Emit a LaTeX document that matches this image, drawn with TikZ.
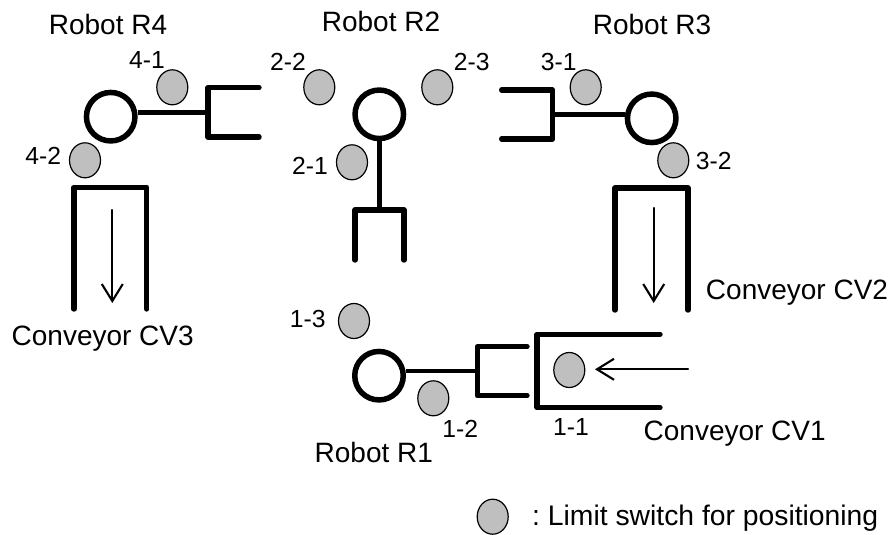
\documentclass[tikz,border=0pt]{standalone}
\usepackage{fontspec}
\setmainfont{Liberation Sans}
\usepackage{tikz}
\usetikzlibrary{arrows.meta}
\usetikzlibrary{shapes.geometric}
\definecolor{switchgray}{HTML}{BFBFBF}

\begin{document}
\begin{tikzpicture}[-,x=1pt,y=-1pt,
			robot node/.style={circle,draw,line width=5.5pt,inner sep=0pt,minimum size=48.5pt},
			switch node/.style={ellipse,fill=switchgray,draw,line width=1.2pt,inner sep=0pt,
				minimum width=31pt,minimum height=35pt},
			part/.style={line width=5.4pt,line cap=round,line join=round},
			arm/.style={line width=4.6pt},
			flow/.style={line width=2.1pt,line cap=round,-{Straight Barb[length=17pt,width=21pt]}},
			big label/.style={anchor=base,inner sep=0pt,font=\fontsize{28}{30}\selectfont},
			small label/.style={anchor=base,inner sep=0pt,font=\fontsize{24.7}{28}\selectfont}]
			\useasboundingbox (0,0) rectangle (894,535);
			
			% robots
			\node[robot node] (R1) at (379,375.7) {};
			\node[robot node] (R2) at (379.3,114.3) {};
			\node[robot node] (R3) at (651.7,118.3) {};
			\node[robot node] (R4) at (110.7,116.7) {};
			\coordinate (H1) at (477.3,371);
			\coordinate (H2) at (379.3,210);
			\coordinate (H3) at (552.7,114.3);
			\coordinate (H4) at (208,112.3);
			\path[arm]
			(R1.east |- H1) edge (H1)
			(R2) edge (H2)
			(R3.west |- H3) edge (H3)
			(R4.east |- H4) edge (H4);
			
			% hands
			\draw[part] (527,346.7) -- (477.3,346.7) -- (477.3,395.7) -- (527,395.7);
			\draw[part] (355,260) -- (355,210) -- (404,210) -- (404,260);
			\draw[part] (501.7,90) -- (552.7,90) -- (552.7,139) -- (501.7,139);
			\draw[part] (259,87.7) -- (208,87.7) -- (208,137) -- (259,137);
			
			% conveyors
			\draw[part] (660,334.3) -- (537,334.3) -- (537,407.7) -- (660,407.7);
			\draw[part] (615,310) -- (615,188) -- (688,188) -- (688,310);
			\draw[part] (74,309) -- (74,187.3) -- (146.7,187.3) -- (146.7,309);
			\coordinate (F1a) at (688,369.3);
			\coordinate (F1b) at (595,369.3);
			\coordinate (F2a) at (653.7,208);
			\coordinate (F2b) at (653.7,303);
			\coordinate (F3a) at (112.3,210);
			\coordinate (F3b) at (112.3,303);
			\draw[flow] (F1a) -- (F1b);
			\draw[flow] (F2a) -- (F2b);
			\draw[flow] (F3a) -- (F3b);
			
			% limit switches
			\node[switch node] (s11) at (569.3,370) {};
			\node[switch node] (s12) at (433.3,398.3) {};
			\node[switch node] (s13) at (354,321) {};
			\node[switch node] (s21) at (352,162.3) {};
			\node[switch node] (s22) at (319.3,87.3) {};
			\node[switch node] (s23) at (437.3,87.3) {};
			\node[switch node] (s31) at (585.7,87.3) {};
			\node[switch node] (s32) at (673.3,160.3) {};
			\node[switch node] (s41) at (172.3,87.3) {};
			\node[switch node] (s42) at (85,160.3) {};
			\node[switch node] (legend) at (492.7,516.7) {};
			
			% switch labels
			\node[small label] (l11) at (571,435.7) {1-1};
			\node[small label] (l12) at (460.3,437.3) {1-2};
			\node[small label] (l13) at (307.7,327.3) {1-3};
			\node[small label] (l21) at (310,174.7) {2-1};
			\node[small label] (l22) at (288,70.7) {2-2};
			\node[small label] (l23) at (471.7,70.7) {2-3};
			\node[small label] (l31) at (558.7,70.7) {3-1};
			\node[small label] (l32) at (713.7,169) {3-2};
			\node[small label] (l41) at (147,68.3) {4-1};
			\node[small label] (l42) at (43.3,164.3) {4-2};
			
			% names
			\node[big label] (n1) at (373.8,462.3) {Robot R1};
			\node[big label] (n2) at (381,32) {Robot R2};
			\node[big label] (n3) at (652,35) {Robot R3};
			\node[big label] (n4) at (108,35) {Robot R4};
			\node[big label] (c1) at (734.7,440) {Conveyor CV1};
			\node[big label] (c2) at (797,299.3) {Conveyor CV2};
			\node[big label] (c3) at (102.7,345) {Conveyor CV3};
			\node[big label,anchor=base west,font=\fontsize{28.3}{30}\selectfont\frenchspacing] (t) at (532,525) {: Limit switch for positioning};
\end{tikzpicture}
\end{document}
